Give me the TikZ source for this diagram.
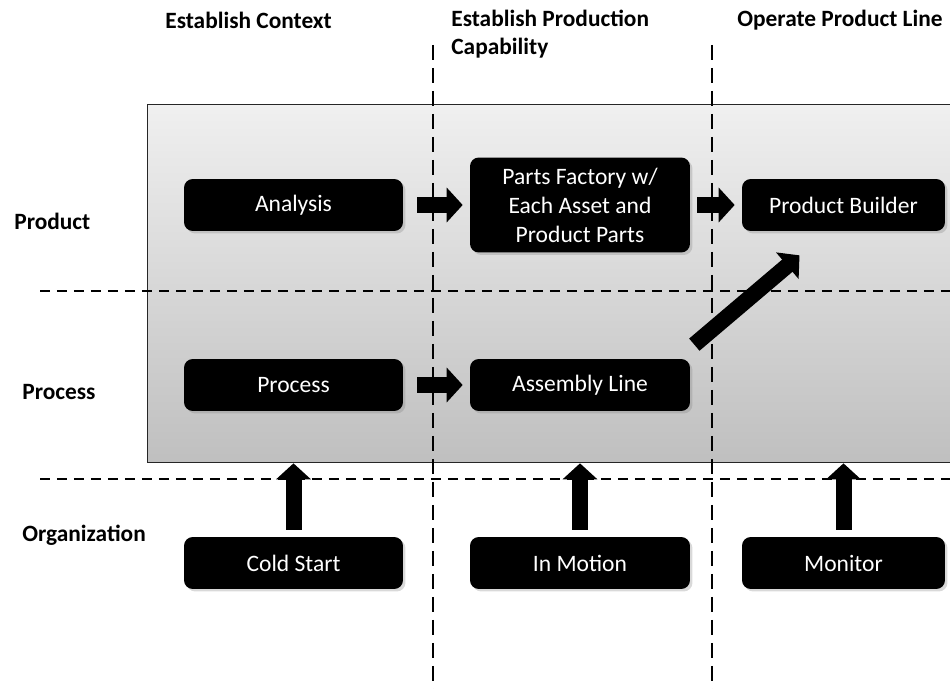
\documentclass[tikz,border=0pt]{standalone}
\usepackage{fontspec}
\setmainfont{Carlito}
\usetikzlibrary{arrows.meta,shadows}

\begin{document}
\begin{tikzpicture}[x=0.02cm, y=-0.02cm,
    blk/.style={fill=black, text=white, rounded corners=5pt, minimum height=1.04cm,
                align=center, inner sep=0pt, font=\fontsize{13.4}{16.5}\selectfont,
                drop shadow={opacity=0.3, shadow xshift=0.05cm, shadow yshift=-0.05cm}},
    fat/.style={line width=0.32cm, -{Triangle[length=0.32cm, width=0.68cm]}},
    hsep/.style={line width=1.1pt, dash pattern=on 0.2cm off 0.14cm},
    vsep/.style={line width=1.1pt, dash pattern=on 0.3cm off 0.16cm},
    head/.style={anchor=west, inner sep=0pt, align=left,
                 font=\bfseries\fontsize{13.3}{16}\selectfont},
  ]
  \useasboundingbox (0,0) rectangle (950,689);
  % shaded panel behind product and process rows
  \node[draw=black!85, line width=0.8pt, top color=gray!12, bottom color=gray!50,
        minimum width=16.4cm, minimum height=7.16cm, inner sep=0pt,
        anchor=north west] (panel) at (147,104) {};

  % separators
  \draw[vsep] (433,45) -- (433,689);
  \draw[vsep] (712,45) -- (712,689);
  \draw[hsep] (40,291) -- (950,291);
  \draw[hsep] (40,479) -- (950,479);

  % column and row titles
  \node[head] (context) at (165,20) {Establish Context};
  \node[head] (capability) at (451,34) {Establish Production\\Capability};
  \node[head] (operate) at (737,20) {Operate Product Line};
  \node[head] (rowproduct) at (14,221) {Product};
  \node[head] (rowprocess) at (22,392) {Process};
  \node[head] (roworg) at (22,535) {Organization};

  % Product
  \node[blk, minimum width=4.38cm] (analysis) at (293.5,205) {Analysis};
  \node[blk, minimum width=4.4cm, minimum height=1.9cm] (parts) at (580,205)
    {Parts Factory w/\\Each Asset and\\Product Parts};
  \node[blk, minimum width=4.06cm] (builder) at (843.5,205) {Product Builder};
  % Process
  \node[blk, minimum width=4.38cm] (process) at (293.5,385) {Process};
  \node[blk, minimum width=4.4cm] (assembly) at (580,385) {Assembly Line};
  % Organization
  \node[blk, minimum width=4.38cm] (cold) at (293.5,563) {Cold Start};
  \node[blk, minimum width=4.4cm] (motion) at (580,563) {In Motion};
  \node[blk, minimum width=4.06cm] (monitor) at (843.5,563) {Monitor};

  % block arrows
  \draw[fat] ([xshift=0.28cm]analysis.east) -- ([xshift=-0.14cm]parts.west);
  \draw[fat] ([xshift=0.14cm]parts.east) -- ([xshift=-0.14cm]builder.west);
  \draw[fat] ([xshift=0.28cm]process.east) -- ([xshift=-0.14cm]assembly.west);
  \draw[fat] ([shift={(4,-14)}]assembly.north east) -- ([shift={(-44,24)}]builder.south);
  \draw[fat] ([yshift=0.14cm]cold.north) -- (cold.north |- panel.south);
  \draw[fat] ([yshift=0.14cm]motion.north) -- (motion.north |- panel.south);
  \draw[fat] ([yshift=0.14cm]monitor.north) -- (monitor.north |- panel.south);
\end{tikzpicture}
\end{document}
